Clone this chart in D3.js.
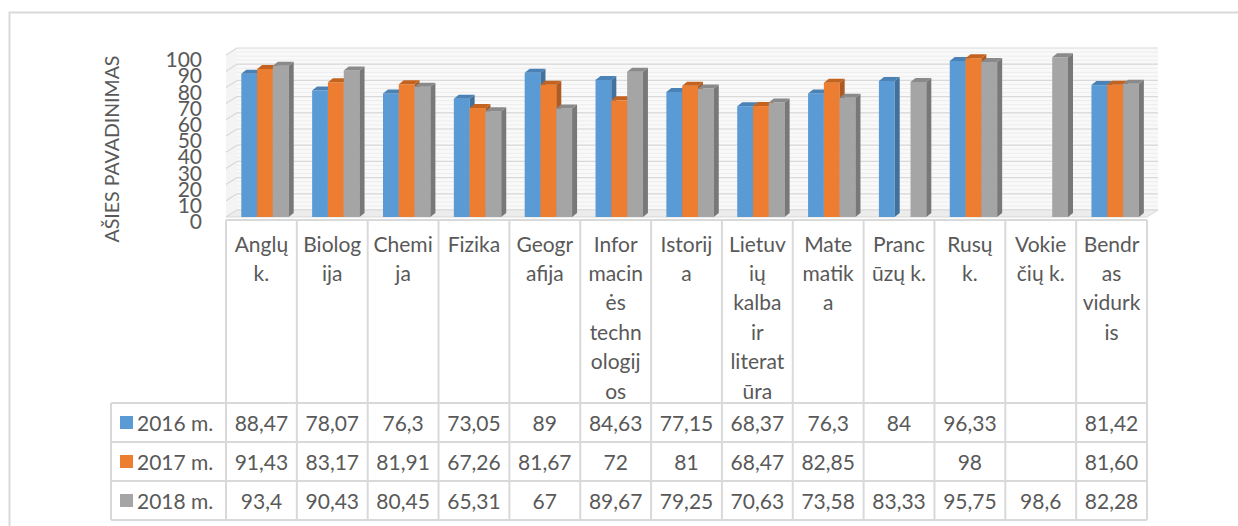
<!DOCTYPE html>
<html>
<head>
<meta charset="utf-8">
<script src="https://cdnjs.cloudflare.com/ajax/libs/d3/7.8.5/d3.min.js"></script>
<style>
  body { margin: 0; background: #fff; }
  text { font-family: Lato, "Open Sans", sans-serif; fill: #595959; }
</style>
</head>
<body>
<div id="chart"></div>
<script>
// categories (subjects) and the way the table header wraps them
var categories = ["Anglų k.", "Biologija", "Chemija", "Fizika", "Geografija",
  "Informacinės technologijos", "Istorija", "Lietuvių kalba ir literatūra",
  "Matematika", "Prancūzų k.", "Rusų k.", "Vokiečių k.", "Bendras vidurkis"];
var headerLines = [["Anglų", "k."], ["Biolog", "ija"], ["Chemi", "ja"], ["Fizika"],
  ["Geogr", "afija"], ["Infor", "macin", "ės", "techn", "ologij", "os"], ["Istorij", "a"],
  ["Lietuv", "ių", "kalba", "ir", "literat", "ūra"], ["Mate", "matik", "a"],
  ["Pranc", "ūzų k."], ["Rusų", "k."], ["Vokie", "čių k."], ["Bendr", "as", "vidurk", "is"]];

var seriesNames = ["2016 m.", "2017 m.", "2018 m."];
var values2016 = ["88,47", "78,07", "76,3", "73,05", "89", "84,63", "77,15", "68,37", "76,3", "84", "96,33", "", "81,42"];
var values2017 = ["91,43", "83,17", "81,91", "67,26", "81,67", "72", "81", "68,47", "82,85", "", "98", "", "81,60"];
var values2018 = ["93,4", "90,43", "80,45", "65,31", "67", "89,67", "79,25", "70,63", "73,58", "83,33", "95,75", "98,6", "82,28"];
var yTicks = [0, 10, 20, 30, 40, 50, 60, 70, 80, 90, 100];

var allValues = [values2016, values2017, values2018];
var colors = ["#5b9bd5", "#ed7d31", "#a5a5a5"];
var sideColors = ["#41719c", "#ae5a21", "#787878"];
var topColors = ["#4a82b6", "#c3631f", "#8a8a8a"];

function num(s) { return s === "" ? null : +s.replace(",", "."); }

var width = 1238, height = 526;
var DX = 11, DY = -7;     // depth of the 3D box
var BX = 5, BY = -4;      // depth of each bar

var svg = d3.select("#chart").append("svg")
    .attr("width", width)
    .attr("height", height);

// outer chart frame
svg.append("rect")
  .attr("x", 9.5).attr("y", 12.5)
  .attr("width", 1400).attr("height", 700)
  .style("fill", "none")
  .style("stroke", "#d9d9d9")
  .style("stroke-width", 2);

var x = d3.scaleBand().domain(categories).range([226, 1147]);
var xs = d3.scaleBand().domain(seriesNames).range([15.3, 15.3 + 47.4]);
var y = d3.scaleLinear().domain([0, 100]).range([217, 55]);
var yLabel = d3.scaleLinear().domain([0, 100]).range([222, 60]);

var x0 = x.range()[0], x1 = x.range()[1];

// back wall, side wall, floor
svg.append("rect")
  .attr("x", x0 + DX).attr("y", y(100) + DY)
  .attr("width", x1 - x0).attr("height", y(0) - y(100))
  .style("fill", "#f9f9f9");

svg.append("polygon")
  .attr("points", [[x0, y(0)], [x0 + DX, y(0) + DY], [x0 + DX, y(100) + DY], [x0, y(100)]].join(" "))
  .style("fill", "#f4f4f4");

// minor stripes on the wall
var minor = d3.range(0, 100, 2.5);
svg.selectAll(".minor")
  .data(minor)
  .enter().append("line")
  .attr("class", "minor")
  .attr("x1", x0 + DX).attr("x2", x1 + DX)
  .attr("y1", function(d){ return y(d) + DY; })
  .attr("y2", function(d){ return y(d) + DY; })
  .style("stroke", "#ededed")
  .style("stroke-width", 1);

svg.selectAll(".grid")
  .data(yTicks)
  .enter().append("line")
  .attr("class", "grid")
  .attr("x1", x0 + DX).attr("x2", x1 + DX)
  .attr("y1", function(d){ return y(d) + DY; })
  .attr("y2", function(d){ return y(d) + DY; })
  .style("stroke", "#d9d9d9")
  .style("stroke-width", 1.2);

svg.selectAll(".sidegrid")
  .data(yTicks)
  .enter().append("line")
  .attr("class", "sidegrid")
  .attr("x1", x0).attr("x2", x0 + DX)
  .attr("y1", function(d){ return y(d); })
  .attr("y2", function(d){ return y(d) + DY; })
  .style("stroke", "#d9d9d9")
  .style("stroke-width", 1.2);

svg.append("polygon")
  .attr("points", [[x0, y(0)], [x1, y(0)], [x1 + DX, y(0) + DY], [x0 + DX, y(0) + DY]].join(" "))
  .style("fill", "#ececec")
  .style("stroke", "#d9d9d9")
  .style("stroke-width", 1);

// y axis labels
var yAxis = d3.axisLeft(yLabel).tickValues(yTicks).tickSize(0).tickPadding(0);
var gy = svg.append("g")
  .attr("transform", "translate(202,0)")
  .call(yAxis);
gy.select(".domain").remove();
gy.selectAll("text")
  .style("font-family", "Lato, sans-serif")
  .style("font-size", "21px")
  .style("fill", "#595959");

svg.append("text")
  .attr("transform", "translate(111,149) rotate(-90)")
  .attr("text-anchor", "middle")
  .attr("dominant-baseline", "central")
  .style("font-size", "19.5px")
  .text("AŠIES PAVADINIMAS");

// bars
categories.forEach(function(c, ci){
  allValues.forEach(function(vals, si){
    var v = num(vals[ci]);
    if (v === null) return;
    var bx = x(c) + xs(seriesNames[si]);
    var bw = xs.bandwidth();
    var yt = y(v), yb = y(0);
    var g = svg.append("g").attr("class", "bar");
    g.append("rect")
      .attr("x", bx).attr("y", yt)
      .attr("width", bw).attr("height", yb - yt)
      .style("fill", colors[si]);
    g.append("polygon")
      .attr("points", [[bx + bw, yt], [bx + bw + BX, yt + BY], [bx + bw + BX, yb + BY], [bx + bw, yb]].join(" "))
      .style("fill", sideColors[si]);
    g.append("polygon")
      .attr("points", [[bx, yt], [bx + bw, yt], [bx + bw + BX, yt + BY], [bx + BX, yt + BY]].join(" "))
      .style("fill", topColors[si]);
  });
});

// data table
var headTop = 220, rowTop = 403, rowH = 39;
var tableLeft = 111;
var lineColor = "#d9d9d9";

svg.append("line")
  .attr("x1", x0).attr("x2", x1)
  .attr("y1", headTop).attr("y2", headTop)
  .style("stroke", lineColor).style("stroke-width", 2);

var bounds = categories.map(function(c){ return x(c); }).concat([x1]);
svg.selectAll(".vline")
  .data(bounds)
  .enter().append("line")
  .attr("class", "vline")
  .attr("x1", function(d){ return d; }).attr("x2", function(d){ return d; })
  .attr("y1", headTop).attr("y2", rowTop + 3 * rowH)
  .style("stroke", lineColor).style("stroke-width", 2);

svg.selectAll(".hline")
  .data(d3.range(4))
  .enter().append("line")
  .attr("class", "hline")
  .attr("x1", tableLeft).attr("x2", x1)
  .attr("y1", function(d){ return rowTop + d * rowH; })
  .attr("y2", function(d){ return rowTop + d * rowH; })
  .style("stroke", lineColor).style("stroke-width", 2);

svg.append("line")
  .attr("x1", tableLeft).attr("x2", tableLeft)
  .attr("y1", rowTop).attr("y2", rowTop + 3 * rowH)
  .style("stroke", lineColor).style("stroke-width", 2);

// header text
categories.forEach(function(c, ci){
  headerLines[ci].forEach(function(t, li){
    svg.append("text")
      .attr("x", x(c) + x.bandwidth() / 2)
      .attr("y", 243 + li * 29.4)
      .attr("text-anchor", "middle")
      .attr("dominant-baseline", "central")
      .style("font-size", "21px")
      .text(t);
  });
});

// legend keys + row values
seriesNames.forEach(function(s, si){
  var cy = rowTop + si * rowH + rowH / 2;
  svg.append("rect")
    .attr("x", 120).attr("y", cy - 6.5)
    .attr("width", 13).attr("height", 13)
    .style("fill", colors[si]);
  svg.append("text")
    .attr("x", 137).attr("y", cy)
    .attr("dominant-baseline", "central")
    .style("font-size", "21px")
    .text(s);
  categories.forEach(function(c, ci){
    svg.append("text")
      .attr("x", x(c) + x.bandwidth() / 2)
      .attr("y", cy)
      .attr("text-anchor", "middle")
      .attr("dominant-baseline", "central")
      .style("font-size", "21px")
      .text(allValues[si][ci]);
  });
});
</script>
</body>
</html>
